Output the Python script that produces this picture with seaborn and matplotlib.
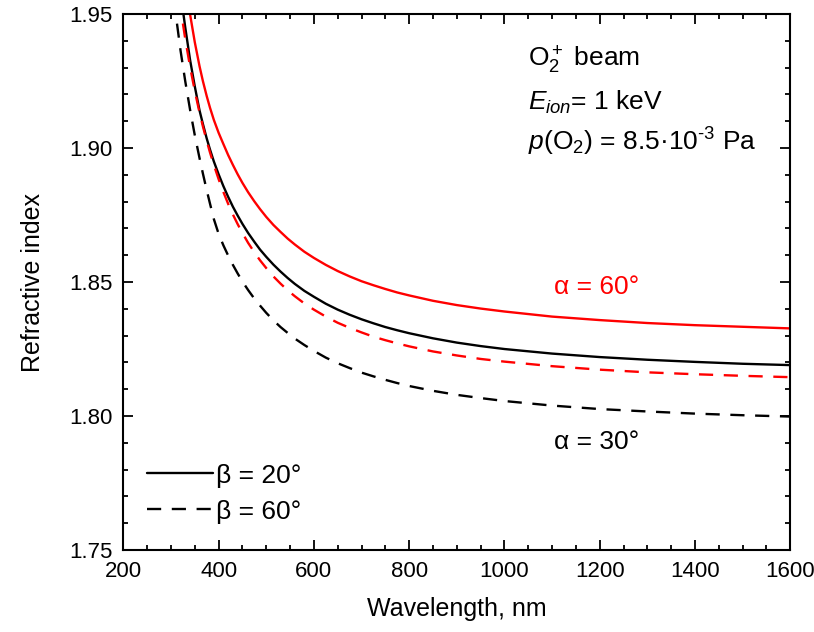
import matplotlib
matplotlib.use("Agg")
import matplotlib.pyplot as plt
from matplotlib.lines import Line2D
from matplotlib.ticker import MultipleLocator, FormatStrFormatter
import pandas as pd
import seaborn as sns

# wavelength grid, nm
wavelength = [300, 310, 320, 330, 340, 350, 360, 367, 375, 382, 390, 400, 410, 420,
              430, 440, 450, 462, 475, 487, 500, 515, 530, 545, 560, 580, 600, 625,
              650, 675, 700, 725, 750, 775, 800, 850, 900, 950, 1000, 1100, 1200,
              1300, 1400, 1500, 1600]

# alpha = 30 deg, beta = 20 deg (black solid)
n_a30_b20 = [1.988, 1.972, 1.958, 1.945, 1.933, 1.923, 1.914, 1.909, 1.9036, 1.8994,
             1.895, 1.8902, 1.8858, 1.8818, 1.8781, 1.8748, 1.8717, 1.8683, 1.865,
             1.8621, 1.8594, 1.8565, 1.8539, 1.8515, 1.8493, 1.8467, 1.8445, 1.8419,
             1.8397, 1.8378, 1.8361, 1.8346, 1.8332, 1.832, 1.8309, 1.829, 1.8274,
             1.8261, 1.825, 1.8233, 1.822, 1.821, 1.8202, 1.8195, 1.819]
# alpha = 30 deg, beta = 60 deg (black dashed)
n_a30_b60 = [1.967, 1.950, 1.9365, 1.9249, 1.9144, 1.9048, 1.8962, 1.8905, 1.8843,
             1.8792, 1.8735, 1.868, 1.8637, 1.8599, 1.8564, 1.8532, 1.8502, 1.847,
             1.8438, 1.8412, 1.8385, 1.8357, 1.8332, 1.831, 1.8289, 1.8265, 1.8243,
             1.8218, 1.8197, 1.8179, 1.8162, 1.8148, 1.8135, 1.8123, 1.8112, 1.8094,
             1.8079, 1.8067, 1.8056, 1.8039, 1.8026, 1.8017, 1.8009, 1.8003, 1.7998]
# alpha = 60 deg, beta = 20 deg (red solid)
n_a60_b20 = [2.007, 1.990, 1.976, 1.962, 1.950, 1.9395, 1.9305, 1.925, 1.9194, 1.915,
             1.9105, 1.9057, 1.9015, 1.8974, 1.8937, 1.8902, 1.887, 1.8835, 1.8801,
             1.8772, 1.8743, 1.8713, 1.8687, 1.8662, 1.864, 1.8613, 1.859, 1.8564,
             1.8541, 1.8521, 1.8503, 1.8488, 1.8474, 1.8461, 1.845, 1.843, 1.8414,
             1.8401, 1.839, 1.8371, 1.8358, 1.8347, 1.8339, 1.8333, 1.8327]
# alpha = 60 deg, beta = 60 deg (red dashed)
n_a60_b60 = [1.9806, 1.9655, 1.9523, 1.9407, 1.9304, 1.9213, 1.9132, 1.9081, 1.9027,
             1.8983, 1.8937, 1.8884, 1.8836, 1.8792, 1.8752, 1.8716, 1.8683, 1.8646,
             1.8611, 1.8581, 1.8552, 1.8521, 1.8494, 1.8469, 1.8447, 1.842, 1.8397,
             1.8371, 1.8348, 1.8329, 1.8312, 1.8296, 1.8283, 1.8271, 1.826, 1.8241,
             1.8226, 1.8213, 1.8203, 1.8186, 1.8173, 1.8163, 1.8156, 1.815, 1.8145]

series = {("30°", "20°"): n_a30_b20, ("30°", "60°"): n_a30_b60,
          ("60°", "20°"): n_a60_b20, ("60°", "60°"): n_a60_b60}
rows = []
for (a, b), vals in series.items():
    for w, n in zip(wavelength, vals):
        rows.append({"wavelength": w, "n": n, "alpha": a, "beta": b})
df = pd.DataFrame(rows)

sns.set_style("ticks")
plt.rcParams["font.family"] = ["Liberation Sans", "DejaVu Sans"]
plt.rcParams["mathtext.fontset"] = "custom"
plt.rcParams["mathtext.rm"] = "Liberation Sans"
plt.rcParams["mathtext.it"] = "Liberation Sans:italic"
for key in ["text.color", "axes.labelcolor", "xtick.color", "ytick.color",
            "axes.edgecolor"]:
    plt.rcParams[key] = "black"

fig = plt.figure(figsize=(8.14, 6.32), dpi=100)
ax = fig.add_axes([0.1515, 0.1297, 0.8194, 0.8481])

sns.lineplot(data=df, x="wavelength", y="n", hue="alpha", style="beta",
             palette={"30°": "black", "60°": "#ff0000"},
             dashes={"20°": "", "60°": (6, 4.5)},
             linewidth=1.7, legend=False, ax=ax)

ax.set_xlim(200, 1600)
ax.set_ylim(1.75, 1.95)
ax.xaxis.set_major_locator(MultipleLocator(200))
ax.xaxis.set_minor_locator(MultipleLocator(50))
ax.yaxis.set_major_locator(MultipleLocator(0.05))
ax.yaxis.set_minor_locator(MultipleLocator(0.01))
ax.yaxis.set_major_formatter(FormatStrFormatter("%.2f"))
ax.tick_params(which="both", direction="in", top=True, right=True, width=1.3,
               labelsize=16, pad=8, colors="black")
ax.tick_params(which="major", length=7)
ax.tick_params(which="minor", length=3.5)
for s in ax.spines.values():
    s.set_linewidth(1.5)
    s.set_color("black")

ax.set_xlabel("Wavelength, nm", fontsize=18, labelpad=11)
ax.set_ylabel("Refractive index", fontsize=18, labelpad=17)

ax.text(0.606, 0.902, "O$_2^+$ beam", transform=ax.transAxes, fontsize=19)
ax.text(0.606, 0.822, "$E_{ion}$= 1 keV", transform=ax.transAxes, fontsize=19)
ax.text(0.606, 0.745, "$p$(O$_2$) = 8.5·10$^{\u2010 3}$ Pa", transform=ax.transAxes,
        fontsize=19)
ax.text(0.645, 0.477, "α = 60°", transform=ax.transAxes, fontsize=19,
        color="#ff0000")
ax.text(0.645, 0.188, "α = 30°", transform=ax.transAxes, fontsize=19)

handles = [Line2D([], [], color="black", lw=1.7),
           Line2D([], [], color="black", lw=1.7, dashes=(6, 4.5))]
ax.legend(handles, ["β = 20°", "β = 60°"], loc="lower left",
          bbox_to_anchor=(0.0, 0.005), frameon=False, fontsize=19,
          handlelength=2.5, handletextpad=0.1, labelspacing=0.45)

fig.savefig("out.png", dpi=100)
